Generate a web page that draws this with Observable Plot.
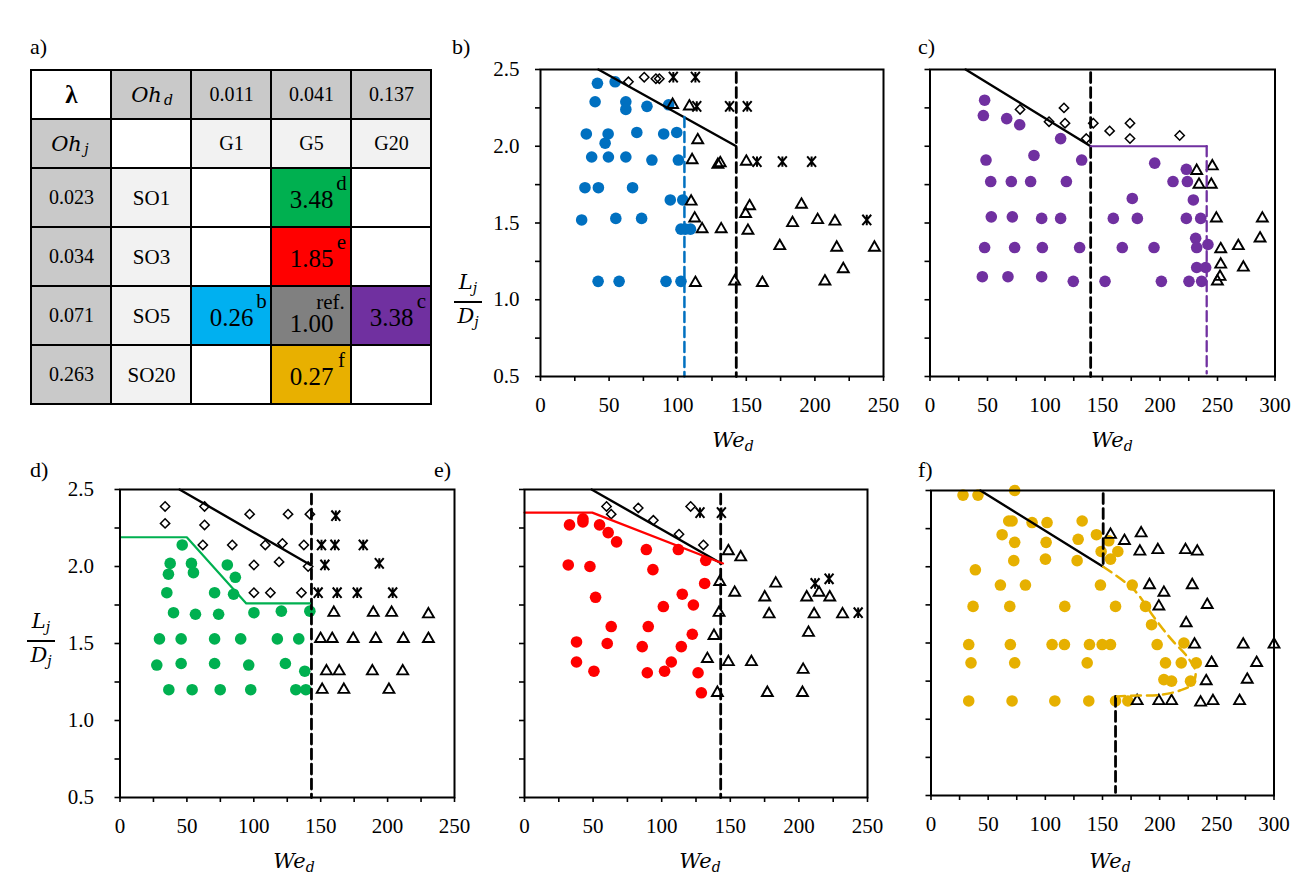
<!DOCTYPE html>
<html>
<head>
<meta charset="utf-8">
<script src="https://cdn.jsdelivr.net/npm/d3@7"></script>
<script src="https://cdn.jsdelivr.net/npm/@observablehq/plot@0.6"></script>
<style>
  html, body { margin: 0; padding: 0; background: #fff; }
  #root { position: relative; width: 1306px; height: 885px; background: #fff; font-family: "Liberation Serif", "Times New Roman", Tinos, "Nimbus Roman", "DejaVu Serif", serif; color: #000; overflow: hidden; }
  .pane { position: absolute; }
  .pane svg { overflow: visible; max-width: none !important; }
  .plabel { position: absolute; font-size: 22px; line-height: 22px; }
  .xt { position: absolute; transform: translate(-50%, -50%); font-family: "DejaVu Serif", serif; font-style: italic; font-size: 21px; white-space: nowrap; }
  .xt sub, .frac sub { font-size: 14px; vertical-align: -4px; }
  .frac { position: absolute; transform: translate(-50%, -50%); display: flex; flex-direction: column; align-items: center; font-family: "DejaVu Serif", serif; font-style: italic; font-size: 21px; line-height: 24px; }
  .frac .bar { width: 28px; height: 2px; background: #000; margin: 1px 0 1px 0; }
</style>
</head>
<body>
<div id="root"></div>
<script>
// ---------------- Table (panel a) data ----------------
const ohdValues = ["0.011", "0.041", "0.137"];
const gelNames = ["G1", "G5", "G20"];
const ohjValues = ["0.023", "0.034", "0.071", "0.263"];
const oilNames = ["SO1", "SO3", "SO5", "SO20"];
const lambdaValues = ["3.48", "1.85", "0.26", "1.00", "3.38", "0.27"];
const lambdaOil = ["SO1", "SO3", "SO5", "SO5", "SO5", "SO20"];
const lambdaGel = ["G5", "G5", "G1", "G5", "G20", "G5"];
const lambdaTag = ["d", "e", "b", "ref.", "c", "f"];

// ---------------- Panel b (G1 / SO5) ----------------
const bCircles = [[41.5,2.41],[54.4,2.42],[39.8,2.29],[62.2,2.29],[62.2,2.24],[77.6,2.26],[93.4,2.27],[33.4,2.08],[49.3,2.08],[47.1,2.02],[70.2,2.09],[89.8,2.08],[99.3,2.09],[37.3,1.93],[49.5,1.93],[62.2,1.93],[81.2,1.91],[100.5,1.91],[32.4,1.73],[42.2,1.73],[67.1,1.73],[94.6,1.65],[103.7,1.65],[30.0,1.52],[54.9,1.53],[73.7,1.53],[102.4,1.46],[105.5,1.46],[109.3,1.46],[42.0,1.12],[57.3,1.12],[91.5,1.12],[102.4,1.12]];
const bDiamonds = [[64.1,2.42],[75.6,2.45],[84.1,2.44],[86.6,2.44]];
const bStars = [[96.8,2.45],[112.9,2.45],[113.9,2.26],[137.8,2.26],[150.7,2.26],[157.8,1.90],[176.3,1.90],[197.6,1.90],[237.8,1.52]];
const bTriangles = [[96.3,2.27],[108.5,2.26],[114.6,2.04],[110.5,1.91],[129.3,1.88],[131.0,1.89],[150.0,1.90],[109.8,1.64],[112.4,1.53],[117.8,1.46],[131.7,1.46],[149.5,1.56],[152.4,1.61],[151.2,1.45],[174.4,1.35],[183.7,1.50],[190.2,1.62],[202.0,1.52],[214.6,1.51],[215.9,1.34],[243.4,1.34],[220.7,1.20],[207.3,1.12],[112.9,1.11],[141.5,1.12],[161.7,1.11]];
const bBoundary = [[42.2,2.5],[142.7,2.0]];
const bCritical = [[142.7,2.48],[142.7,0.5]];
const bLimit = [[104.9,2.19],[104.9,0.5]];

// ---------------- Panel c (G20 / SO5) ----------------
const cCircles = [[47.5,2.30],[46.4,2.20],[66.7,2.18],[78.0,2.14],[113.6,2.05],[48.7,1.91],[90.4,1.94],[131.9,1.91],[195.4,1.89],[222.9,1.85],[52.8,1.77],[70.7,1.77],[87.5,1.77],[118.6,1.77],[211.3,1.77],[223.8,1.77],[229.0,1.65],[175.9,1.66],[53.3,1.54],[71.6,1.54],[97.1,1.53],[113.6,1.53],[159.4,1.53],[180.3,1.53],[222.9,1.53],[235.4,1.53],[47.5,1.34],[73.6,1.34],[97.7,1.34],[130.1,1.34],[167.2,1.34],[194.8,1.34],[231.0,1.40],[241.7,1.36],[231.9,1.34],[231.9,1.21],[239.7,1.21],[45.5,1.15],[67.8,1.15],[97.1,1.15],[124.6,1.12],[152.2,1.12],[201.2,1.12],[225.2,1.12],[236.2,1.12]];
const cDiamonds = [[78.3,2.24],[116.5,2.25],[103.5,2.16],[117.4,2.15],[135.9,2.05],[142.0,2.15],[156.2,2.10],[173.9,2.15],[173.9,2.05],[217.1,2.07]];
const cTriangles = [[245.5,1.87],[231.9,1.84],[233.9,1.75],[244.6,1.75],[249.0,1.53],[289.0,1.53],[287.0,1.40],[268.1,1.35],[252.8,1.33],[252.8,1.23],[272.5,1.21],[252.2,1.15],[249.9,1.12]];
const cBoundary = [[31.0,2.5],[139.7,2.0]];
const cCritical = [[139.7,2.48],[139.7,0.5]];
const cLimitTop = [[139.7,2.0],[240.6,2.0]];
const cLimit = [[240.6,2.0],[240.6,0.52]];

// ---------------- Panel d (G5 / SO1) ----------------
const dCircles = [[46.5,2.14],[37.5,2.02],[36.2,1.95],[53.4,2.02],[54.9,1.96],[80.2,2.01],[86.2,1.93],[35.0,1.83],[70.7,1.83],[84.9,1.82],[40.0,1.70],[56.4,1.69],[73.7,1.69],[100.1,1.70],[120.6,1.71],[141.9,1.71],[29.5,1.53],[45.7,1.53],[70.7,1.53],[90.2,1.53],[117.6,1.53],[133.6,1.53],[27.5,1.36],[45.7,1.37],[70.7,1.37],[96.2,1.36],[123.6,1.37],[138.1,1.32],[36.5,1.20],[53.9,1.20],[74.9,1.20],[97.7,1.20],[131.4,1.20],[138.9,1.20]];
const dDiamonds = [[33.7,2.39],[33.7,2.28],[63.2,2.39],[63.2,2.27],[96.9,2.34],[125.6,2.34],[141.9,2.34],[61.9,2.14],[83.9,2.14],[108.6,2.14],[121.4,2.15],[137.4,2.14],[100.1,2.01],[118.9,2.03],[140.6,2.00],[100.1,1.83],[112.4,1.83],[135.6,1.83]];
const dStars = [[161.3,2.33],[150.6,2.14],[160.6,2.14],[181.8,2.14],[153.1,2.01],[193.8,2.02],[148.1,1.83],[162.3,1.83],[177.3,1.83],[203.8,1.83]];
const dTriangles = [[159.8,1.70],[189.3,1.70],[203.0,1.70],[230.5,1.69],[149.9,1.53],[158.6,1.53],[174.3,1.53],[191.1,1.53],[211.8,1.53],[230.5,1.53],[154.3,1.32],[163.8,1.32],[188.6,1.32],[211.3,1.32],[151.1,1.20],[167.3,1.20],[201.0,1.20]];
const dBoundary = [[44.5,2.5],[142.4,2.01]];
const dCritical = [[143.1,2.47],[143.1,0.5]];
const dLimit = [[0,2.19],[49.9,2.19],[94.4,1.76],[141.9,1.76]];

// ---------------- Panel e (G5 / SO3) ----------------
const eCircles = [[32.8,2.27],[42.6,2.29],[42.6,2.31],[54.7,2.27],[61.0,2.22],[67.1,2.16],[88.8,2.11],[112.1,2.11],[132.1,2.04],[31.9,2.01],[47.7,2.00],[93.6,1.98],[131.3,1.89],[51.8,1.80],[115.0,1.82],[101.2,1.74],[123.1,1.75],[63.2,1.61],[90.2,1.61],[122.3,1.56],[37.9,1.51],[60.3,1.50],[85.8,1.48],[114.3,1.48],[37.9,1.38],[107.0,1.38],[50.6,1.32],[89.5,1.31],[102.1,1.32],[126.5,1.31],[128.9,1.18]];
const eDiamonds = [[59.8,2.39],[63.2,2.34],[82.9,2.38],[93.9,2.30],[121.1,2.39],[112.6,2.21],[130.4,2.14]];
const eStars = [[127.9,2.35],[143.5,2.35],[211.8,1.89],[222.0,1.92],[243.2,1.70]];
const eTriangles = [[148.6,2.10],[157.6,2.06],[142.3,1.90],[153.2,1.83],[183.1,1.89],[175.1,1.80],[205.7,1.80],[214.7,1.83],[222.5,1.80],[141.8,1.70],[178.3,1.69],[211.1,1.69],[231.8,1.69],[207.0,1.57],[138.1,1.55],[133.3,1.40],[148.6,1.38],[165.4,1.38],[203.1,1.33],[140.6,1.18],[177.0,1.18],[202.6,1.18]];
const eBoundary = [[48.9,2.5],[143.5,2.02]];
const eCritical = [[143.0,2.47],[143.0,0.5]];
const eLimit = [[0,2.35],[49.4,2.35],[144.7,2.02]];

// ---------------- Panel f (G5 / SO20) ----------------
const fCircles = [[28.0,2.47],[41.1,2.47],[73.2,2.50],[68.0,2.30],[70.9,2.30],[88.4,2.29],[101.5,2.29],[132.2,2.30],[62.2,2.21],[73.2,2.16],[100.7,2.16],[128.7,2.18],[144.7,2.21],[155.5,2.17],[163.4,2.10],[148.8,2.10],[157.0,2.05],[72.4,2.04],[100.1,2.05],[127.8,2.04],[38.8,1.98],[60.7,1.88],[82.6,1.88],[148.2,1.88],[176.0,1.88],[36.8,1.74],[68.9,1.74],[117.0,1.74],[161.4,1.74],[187.6,1.74],[192.9,1.62],[33.0,1.49],[69.4,1.49],[105.9,1.49],[116.7,1.49],[138.6,1.49],[149.7,1.49],[157.0,1.49],[197.8,1.49],[221.2,1.50],[35.0,1.37],[73.2,1.37],[136.6,1.37],[205.1,1.37],[218.9,1.37],[232.0,1.37],[203.7,1.26],[210.4,1.25],[227.0,1.25],[33.0,1.12],[70.9,1.12],[108.3,1.12],[138.0,1.12],[161.4,1.12],[172.2,1.12]];
const fTriangles = [[157.0,2.21],[169.2,2.17],[183.8,2.22],[182.7,2.10],[198.4,2.11],[222.6,2.11],[232.9,2.10],[191.1,1.88],[203.7,1.83],[228.5,1.88],[241.6,1.75],[199.3,1.74],[223.2,1.63],[230.5,1.49],[273.1,1.49],[300.0,1.49],[245.4,1.37],[284.8,1.37],[240.7,1.25],[276.6,1.26],[180.3,1.12],[199.3,1.12],[210.4,1.12],[235.8,1.11],[246.6,1.12],[269.9,1.12]];
const fBoundary = [[43.2,2.5],[150.6,2.0]];
const fCritical = [[150.6,2.48],[150.6,2.0]];
const fCriticalLow = [[161.4,1.15],[161.4,0.52]];
const fLimit = [[150.6,2.0],[177.4,1.85],[194.9,1.67],[209.5,1.53],[224.1,1.41],[231.4,1.31],[228.5,1.23],[218.3,1.19],[200.8,1.16],[180.3,1.155],[162.8,1.15]];

// ---------------- styling constants ----------------
const COL = { blue: "#0070C0", purple: "#7030A0", green: "#00B050", red: "#FF0000", gold: "#E6B000" };
const tagColor = { d: "#00B050", e: "#FF0000", b: "#00B0F0", "ref.": "#808080", c: "#7030A0", f: "#E8B000" };
const FONT = '"Liberation Serif", "Times New Roman", Tinos, "Nimbus Roman", "DejaVu Serif", serif';
const root = document.getElementById("root");

// X with a vertical bar (like the spreadsheet "ж" marker)
const barredX = {
  draw(ctx, size) {
    const r = Math.sqrt(size / Math.PI);
    const w = r * 0.85;
    ctx.moveTo(0, -r); ctx.lineTo(0, r);
    ctx.moveTo(-w, -r); ctx.lineTo(w, r);
    ctx.moveTo(-w, r); ctx.lineTo(w, -r);
  }
};

function addNode(node, left, top) {
  const div = document.createElement("div");
  div.className = "pane";
  div.style.left = left + "px";
  div.style.top = top + "px";
  div.appendChild(node);
  root.appendChild(div);
}
function addHTML(cls, html, left, top) {
  const div = document.createElement("div");
  div.className = cls;
  div.style.left = left + "px";
  div.style.top = top + "px";
  div.innerHTML = html;
  root.appendChild(div);
}

const X = d => d[0], Y = d => d[1];

function panel(cfg) {
  const [fl, fr, ft, fb] = cfg.frame;
  const left = cfg.left, top = cfg.top;
  const width = Math.round(fr - left + 22), height = Math.round(fb - top + 50);
  const c = cfg.color;
  const marks = [];
  marks.push(Plot.dot(cfg.circles, {x: X, y: Y, r: 5.8, fill: c}));
  if (cfg.triangles) marks.push(Plot.dot(cfg.triangles, {x: X, y: Y, symbol: "triangle2", r: 5.2, stroke: "black", strokeWidth: 1.9, fill: "none"}));
  if (cfg.diamonds) marks.push(Plot.dot(cfg.diamonds, {x: X, y: Y, symbol: "diamond2", r: 4.2, stroke: "black", strokeWidth: 1.5, fill: "none"}));
  if (cfg.stars) marks.push(Plot.dot(cfg.stars, {x: X, y: Y, symbol: barredX, r: 5.2, stroke: "black", strokeWidth: 2}));
  for (const l of cfg.lines) {
    marks.push(Plot.line(l.data, {x: X, y: Y, stroke: l.stroke, strokeWidth: l.w || 2,
      strokeDasharray: l.dash || null, curve: l.curve || "linear"}));
  }
  marks.push(Plot.frame({stroke: "black", strokeWidth: 2}));
  marks.push(Plot.axisX(d3.range(0, cfg.xmax + 1, 25), {tickSize: 5, strokeWidth: 1.6, fill: "none", label: null}));
  marks.push(Plot.axisX(d3.range(0, cfg.xmax + 1, 50), {tickSize: 0, tickPadding: 21, fontSize: 21, label: null, tickFormat: d3.format("d")}));
  marks.push(Plot.axisY(d3.range(0.5, 2.51, 0.25), {tickSize: 5, strokeWidth: 1.6, fill: "none", label: null}));
  if (cfg.yPad) marks.push(Plot.axisY([0.5, 1, 1.5, 2, 2.5], {tickSize: 0, tickPadding: cfg.yPad, fontSize: 21, label: null, tickFormat: d3.format(".1f")}));
  const plot = Plot.plot({
    width, height,
    marginLeft: fl - left, marginRight: width - (fr - left),
    marginTop: ft - top, marginBottom: height - (fb - top),
    x: {domain: [0, cfg.xmax]},
    y: {domain: [0.5, 2.5]},
    style: {fontFamily: FONT, fontSize: "21px", color: "black", background: "none", overflow: "visible"},
    marks
  });
  addNode(plot, left, top);
}

// ---------------- Table (panel a) ----------------
const colIds = ["k0", "k1", ...gelNames];
const headerRows = ["h0", "h1"];
const gray = "#C9C9C9", light = "#F2F2F2";
const headerCells = [];
headerCells.push({col: "k0", row: "h0", fill: "white"});
headerCells.push({col: "k1", row: "h0", fill: gray});
gelNames.forEach((g, i) => headerCells.push({col: g, row: "h0", fill: gray, text: ohdValues[i]}));
headerCells.push({col: "k0", row: "h1", fill: gray});
headerCells.push({col: "k1", row: "h1", fill: "white"});
gelNames.forEach(g => headerCells.push({col: g, row: "h1", fill: light, text: g}));

const bodyCells = [];
oilNames.forEach((o, i) => {
  bodyCells.push({col: "k0", row: o, fill: gray, text: ohjValues[i]});
  bodyCells.push({col: "k1", row: o, fill: light, text: o});
  gelNames.forEach(g => {
    const k = lambdaValues.findIndex((v, j) => lambdaOil[j] === o && lambdaGel[j] === g);
    bodyCells.push({col: g, row: o, fill: k >= 0 ? tagColor[lambdaTag[k]] : "white"});
  });
});
const lambdaCells = lambdaValues.map((v, j) => ({col: lambdaGel[j], row: lambdaOil[j], value: v, tag: lambdaTag[j]}));

const tblLeft = 29, tblW = 404;
const header = Plot.plot({
  width: tblW, height: 101, margin: 1,
  x: {type: "band", domain: colIds, padding: 0, axis: null},
  y: {type: "band", domain: headerRows, padding: 0, axis: null},
  style: {fontFamily: FONT, color: "black", background: "none", overflow: "visible"},
  marks: [
    Plot.cell(headerCells, {x: "col", y: "row", fill: "fill", stroke: "black", strokeWidth: 2}),
    Plot.text(headerCells.filter(d => d.text), {x: "col", y: "row", text: "text", fontSize: 20}),
    Plot.text(["λ"], {x: () => "k0", y: () => "h0", text: d => d, fontSize: 25, fontWeight: "bold"}),
    Plot.text(["Oh"], {x: () => "k1", y: () => "h0", text: d => d, fontSize: 21, fontStyle: "italic", fontFamily: "DejaVu Serif", dx: -5}),
    Plot.text(["d"], {x: () => "k1", y: () => "h0", text: d => d, fontSize: 14, fontStyle: "italic", fontFamily: "DejaVu Serif", dx: 17, dy: 6}),
    Plot.text(["Oh"], {x: () => "k0", y: () => "h1", text: d => d, fontSize: 21, fontStyle: "italic", fontFamily: "DejaVu Serif", dx: -5}),
    Plot.text(["j"], {x: () => "k0", y: () => "h1", text: d => d, fontSize: 14, fontStyle: "italic", fontFamily: "DejaVu Serif", dx: 15, dy: 6})
  ]
});
addNode(header, tblLeft, 68);

const body = Plot.plot({
  width: tblW, height: 238, margin: 1,
  x: {type: "band", domain: colIds, padding: 0, axis: null},
  y: {type: "band", domain: oilNames, padding: 0, axis: null},
  style: {fontFamily: FONT, color: "black", background: "none", overflow: "visible"},
  marks: [
    Plot.cell(bodyCells, {x: "col", y: "row", fill: "fill", stroke: "black", strokeWidth: 2}),
    Plot.text(bodyCells.filter(d => d.col === "k0"), {x: "col", y: "row", text: "text", fontSize: 20}),
    Plot.text(bodyCells.filter(d => d.col === "k1"), {x: "col", y: "row", text: "text", fontSize: 21}),
    Plot.text(lambdaCells.filter(d => d.tag !== "ref."), {x: "col", y: "row", text: "value", fontSize: 25, dy: 2}),
    Plot.text(lambdaCells.filter(d => d.tag !== "ref."), {x: "col", y: "row", text: "tag", fontSize: 21, dx: 30, dy: -15}),
    Plot.text(lambdaCells.filter(d => d.tag === "ref."), {x: "col", y: "row", text: "value", fontSize: 25, dy: 8}),
    Plot.text(lambdaCells.filter(d => d.tag === "ref."), {x: "col", y: "row", text: "tag", fontSize: 21, dx: 19, dy: -14})
  ]
});
addNode(body, tblLeft, 167);

// ---------------- Scatter panels ----------------
const BW = 2.4;
panel({left: 440, top: 40, frame: [540, 883, 69, 376], xmax: 250, yPad: 21, color: COL.blue,
  circles: bCircles, diamonds: bDiamonds, stars: bStars, triangles: bTriangles,
  lines: [
    {data: bBoundary, stroke: "black", w: BW},
    {data: bCritical, stroke: "black", w: 2.8, dash: "10,5"},
    {data: bLimit, stroke: COL.blue, w: 2.5, dash: "10,5"}
  ]});

panel({left: 900, top: 40, frame: [929.5, 1274.5, 69, 376], xmax: 300, color: COL.purple,
  circles: cCircles, diamonds: cDiamonds, triangles: cTriangles,
  lines: [
    {data: cBoundary, stroke: "black", w: BW},
    {data: cCritical, stroke: "black", w: 2.8, dash: "10,5"},
    {data: cLimitTop, stroke: COL.purple, w: 2.2},
    {data: cLimit, stroke: COL.purple, w: 2.3, dash: "10,5"}
  ]});

panel({left: 20, top: 460, frame: [119.5, 454, 489, 797], xmax: 250, yPad: 26, color: COL.green,
  circles: dCircles, diamonds: dDiamonds, stars: dStars, triangles: dTriangles,
  lines: [
    {data: dBoundary, stroke: "black", w: BW},
    {data: dCritical, stroke: "black", w: 2.8, dash: "10,5"},
    {data: dLimit, stroke: COL.green, w: 2.2}
  ]});

panel({left: 480, top: 460, frame: [524, 867, 489, 797], xmax: 250, color: COL.red,
  circles: eCircles, diamonds: eDiamonds, stars: eStars, triangles: eTriangles,
  lines: [
    {data: eBoundary, stroke: "black", w: BW},
    {data: eCritical, stroke: "black", w: 2.8, dash: "10,5"},
    {data: eLimit, stroke: COL.red, w: 2.2}
  ]});

panel({left: 900, top: 460, frame: [930.5, 1273.5, 490, 795], xmax: 300, color: COL.gold,
  circles: fCircles, triangles: fTriangles,
  lines: [
    {data: fBoundary, stroke: "black", w: BW},
    {data: fCritical, stroke: "black", w: 2.8, dash: "10,5"},
    {data: fCriticalLow, stroke: "black", w: 2.8, dash: "10,5"},
    {data: fLimit, stroke: COL.gold, w: 2.5, dash: "10,6", curve: "catmull-rom"}
  ]});

// ---------------- labels ----------------
addHTML("plabel", "a)", 30, 36);
addHTML("plabel", "b)", 452, 36);
addHTML("plabel", "c)", 918, 36);
addHTML("plabel", "d)", 30, 459);
addHTML("plabel", "e)", 434, 459);
addHTML("plabel", "f)", 918, 459);

const weHTML = "We<sub>d</sub>";
addHTML("xt", weHTML, 733, 441);
addHTML("xt", weHTML, 1112, 441);
addHTML("xt", weHTML, 294, 862);
addHTML("xt", weHTML, 700, 862);
addHTML("xt", weHTML, 1110, 862);

const fracHTML = '<div class="num">L<sub>j</sub></div><div class="bar"></div><div class="den">D<sub>j</sub></div>';
addHTML("frac", fracHTML, 468, 302);
addHTML("frac", fracHTML, 41, 641);
</script>
</body>
</html>
